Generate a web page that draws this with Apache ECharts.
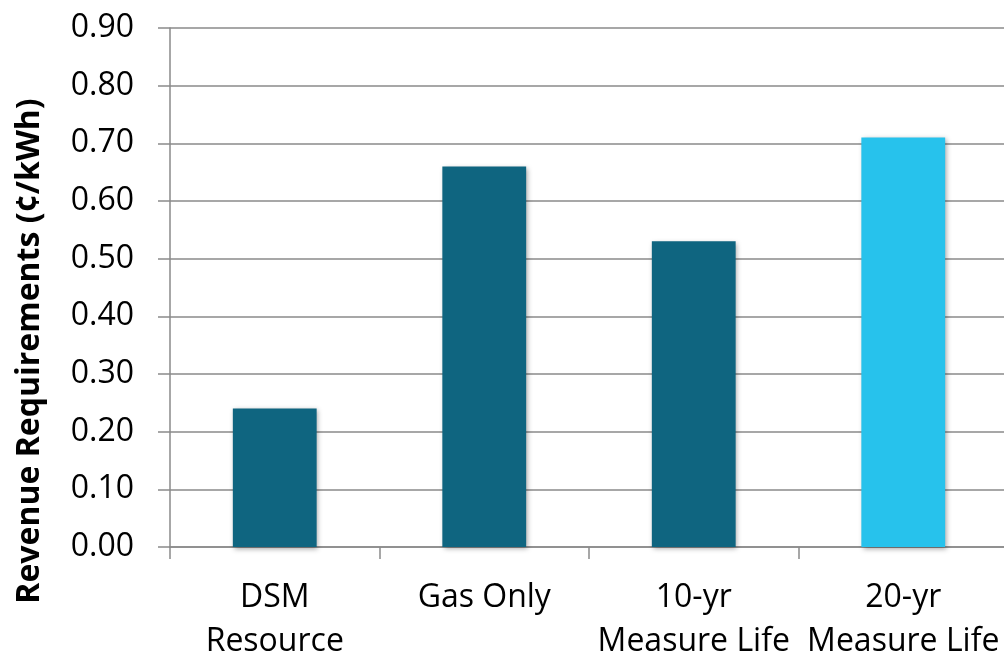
<!DOCTYPE html>
<html>
<head>
<meta charset="utf-8">
<script src="https://cdn.jsdelivr.net/npm/echarts@6/dist/echarts.min.js"></script>
<style>
  html, body { margin: 0; padding: 0; background: #fff; }
  #chart { width: 1004px; height: 657px; }
</style>
</head>
<body>
<div id="chart"></div>
<script>
// Revenue requirements by resource option (¢/kWh)
const categories = ['DSM\nResource', 'Gas Only', '10-yr\nMeasure Life', '20-yr\nMeasure Life'];
const values = [0.24, 0.66, 0.53, 0.71];
const yTicks = { min: 0, max: 0.9, interval: 0.1 };
const yTitle = 'Revenue Requirements (¢/kWh)';

// Bar fills: dark teal, with the last option highlighted in light blue
const barColors = ['#0F6580', '#0F6580', '#0F6580', '#27C2EC'];

const FONT = '"Open Sans", "Noto Sans", sans-serif';
const GRID = '#8a8a8a';

const chart = echarts.init(document.getElementById('chart'), null, { renderer: 'canvas' });

chart.setOption({
  animation: false,
  backgroundColor: '#ffffff',
  grid: {
    left: 170, right: -4, top: 28, bottom: 110,
    containLabel: false,
    outerBoundsMode: 'none'
  },
  xAxis: {
    type: 'category',
    data: categories,
    boundaryGap: true,
    axisLine: { show: true, lineStyle: { color: GRID, width: 1.5 } },
    axisTick: { show: true, length: 12, alignWithLabel: false, lineStyle: { color: GRID, width: 1.5 } },
    axisLabel: {
      color: '#000', fontFamily: FONT, fontSize: 32, lineHeight: 44,
      margin: 29, interval: 0
    },
    splitLine: { show: false }
  },
  yAxis: {
    type: 'value',
    min: yTicks.min, max: yTicks.max, interval: yTicks.interval,
    axisLine: { show: true, lineStyle: { color: GRID, width: 1.5 } },
    axisTick: { show: true, length: 12, lineStyle: { color: GRID, width: 1.5 } },
    axisLabel: {
      color: '#000', fontFamily: FONT, fontSize: 32, margin: 36,
      formatter: v => v.toFixed(2)
    },
    splitLine: { show: true, lineStyle: { color: GRID, width: 1.5 } }
  },
  graphic: [{
    type: 'text',
    x: 30, y: 351,
    rotation: Math.PI / 2,
    style: {
      text: yTitle,
      fill: '#000',
      font: 'bold 32px ' + FONT,
      textAlign: 'center',
      textVerticalAlign: 'middle'
    }
  }],
  series: [{
    type: 'bar',
    data: values,
    barWidth: '40%',
    itemStyle: {
      color: p => barColors[p.dataIndex],
      shadowColor: 'rgba(0,0,0,0.35)',
      shadowBlur: 5,
      shadowOffsetX: 1.5,
      shadowOffsetY: 1.5
    }
  }]
});
</script>
</body>
</html>
